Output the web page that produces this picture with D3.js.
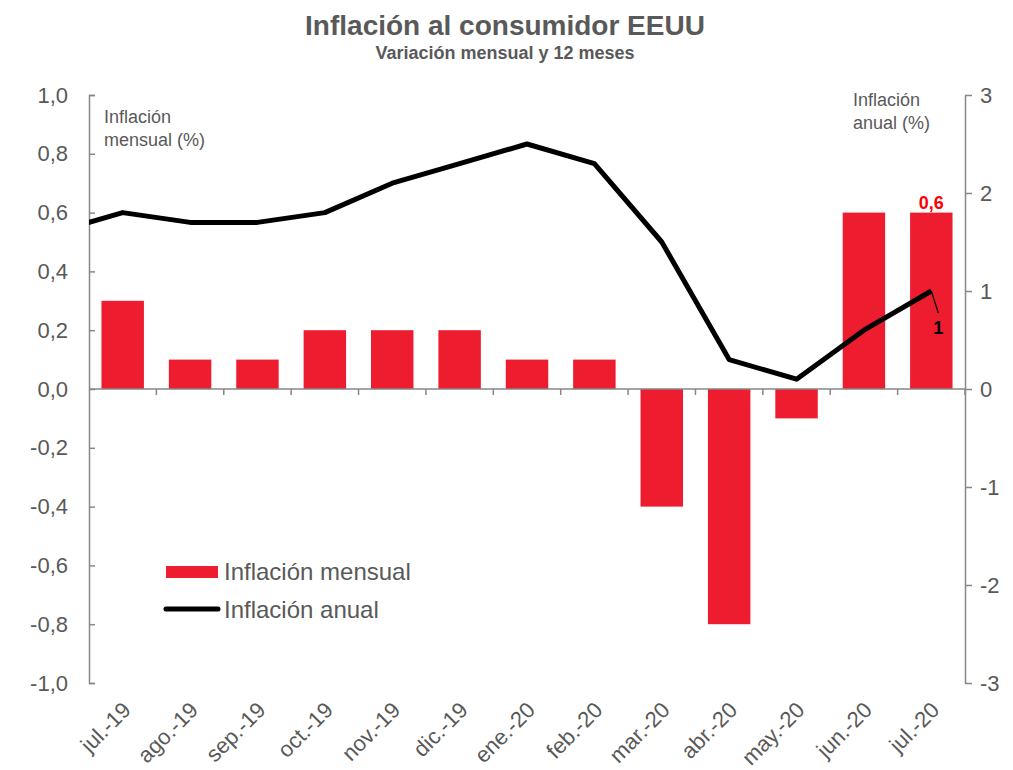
<!DOCTYPE html>
<html>
<head>
<meta charset="utf-8">
<script src="https://cdn.jsdelivr.net/npm/d3@7"></script>
<style>
  body { margin: 0; background: #fff; }
  svg { font-family: "Liberation Sans", Arial, sans-serif; }
  .axis path, .axis line { stroke: #878787; stroke-width: 1.5px; fill: none; }
  .axis text { fill: #595959; font-size: 22px; }
</style>
</head>
<body>
<svg id="chart" width="1013" height="770"></svg>
<script>
var months = ["jul.-19", "ago.-19", "sep.-19", "oct.-19", "nov.-19", "dic.-19", "ene.-20",
  "feb.-20", "mar.-20", "abr.-20", "may.-20", "jun.-20", "jul.-20"];
var monthly = [0.3, 0.1, 0.1, 0.2, 0.2, 0.2, 0.1, 0.1, -0.4, -0.8, -0.1, 0.6, 0.6];
// the annual line begins one month earlier (jun.-19), clipped at the left axis
var annualPrev = 1.6;
var annual = [1.8, 1.7, 1.7, 1.8, 2.1, 2.3, 2.5, 2.3, 1.5, 0.3, 0.1, 0.6, 1.0];
var leftTicks = [-1, -0.8, -0.6, -0.4, -0.2, 0, 0.2, 0.4, 0.6, 0.8, 1];
var rightTicks = [-3, -2, -1, 0, 1, 2, 3];

var svg = d3.select("#chart");
var plotL = 89, plotR = 965, plotT = 95, plotB = 683;
var red = "#ed1c2e", grey = "#595959";

var x = d3.scaleBand().domain(months).range([plotL, plotR]).paddingInner(0.37).paddingOuter(0.185);
var step = x.step();
var cx = function(i) { return x(months[0]) + x.bandwidth() / 2 + i * step; };
var yL = d3.scaleLinear().domain([-1, 1]).range([plotB, plotT]);
var yR = d3.scaleLinear().domain([-3, 3]).range([plotB, plotT]);

var fmt = function(d) { return d3.format(".1f")(d).replace(".", ",").replace("−", "-"); };

// title
svg.append("text").attr("x", 505).attr("y", 35).attr("text-anchor", "middle")
  .style("font-size", "28px").style("font-weight", "bold").attr("fill", grey)
  .text("Inflación al consumidor EEUU");
svg.append("text").attr("x", 505).attr("y", 59).attr("text-anchor", "middle")
  .style("font-size", "18px").style("font-weight", "bold").attr("fill", grey)
  .text("Variación mensual y 12 meses");

// bars
svg.append("g").selectAll("rect").data(monthly).join("rect")
  .attr("x", function(d, i) { return x(months[i]); })
  .attr("width", x.bandwidth())
  .attr("y", function(d) { return yL(Math.max(0, d)); })
  .attr("height", function(d) { return Math.abs(yL(d) - yL(0)); })
  .attr("fill", red);

// left axis
var gl = svg.append("g").attr("class", "axis").attr("transform", "translate(" + plotL + ",0)")
  .call(d3.axisRight(yL).tickValues(leftTicks).tickFormat(fmt).tickSize(6).tickSizeOuter(6));
gl.selectAll("text").attr("x", -21).attr("text-anchor", "end");

// right axis
svg.append("g").attr("class", "axis").attr("transform", "translate(" + plotR + ",0)")
  .call(d3.axisRight(yR).tickValues(rightTicks).tickFormat(function(d) { return String(d); }).tickSize(7).tickSizeOuter(0))
  .selectAll("text").attr("x", 15);

// category axis at zero
var xa = svg.append("g").attr("class", "axis").attr("transform", "translate(0," + yL(0) + ")");
xa.append("line").attr("x1", plotL).attr("x2", plotR);
xa.selectAll("line.tk").data(d3.range(months.length)).join("line").attr("class", "tk")
  .attr("x1", function(i) { return plotL + (i + 1) * step; })
  .attr("x2", function(i) { return plotL + (i + 1) * step; })
  .attr("y1", 0).attr("y2", 6);

// category labels
svg.append("g").selectAll("text").data(months).join("text")
  .attr("transform", function(d, i) { return "translate(" + (cx(i) + 4) + ",706) rotate(-45)"; })
  .attr("text-anchor", "end").attr("dy", "0.35em")
  .style("font-size", "22px").attr("fill", grey)
  .text(function(d) { return d; });

// annual line
svg.append("clipPath").attr("id", "clip").append("rect")
  .attr("x", plotL).attr("y", plotT - 10).attr("width", plotR - plotL).attr("height", plotB - plotT + 20);
var pts = [[cx(-1), annualPrev]].concat(annual.map(function(d, i) { return [cx(i), d]; }));
svg.append("path").datum(pts)
  .attr("clip-path", "url(#clip)")
  .attr("fill", "none").attr("stroke", "#000").attr("stroke-width", 5)
  .attr("stroke-linejoin", "round")
  .attr("d", d3.line().x(function(d) { return d[0]; }).y(function(d) { return yR(d[1]); }));

// axis notes
var note = function(tx, ty, lines) {
  var t = svg.append("text").attr("x", tx).attr("y", ty).style("font-size", "18px").attr("fill", grey);
  lines.forEach(function(s, k) { t.append("tspan").attr("x", tx).attr("dy", k ? 23 : 0).text(s); });
};
note(104, 123, ["Inflación", "mensual (%)"]);
note(853, 106, ["Inflación", "anual (%)"]);

// data labels
var last = months.length - 1;
svg.append("text").attr("x", cx(last)).attr("y", yL(monthly[last]) - 4).attr("text-anchor", "middle")
  .style("font-size", "18px").style("font-weight", "bold").attr("fill", "#ff0000")
  .text(fmt(monthly[last]));
svg.append("line").attr("x1", cx(last)).attr("y1", yR(annual[last]))
  .attr("x2", cx(last) + 7).attr("y2", yR(annual[last]) + 22)
  .attr("stroke", "#000").attr("stroke-width", 1.2);
svg.append("text").attr("x", cx(last) + 7).attr("y", yR(annual[last]) + 43).attr("text-anchor", "middle")
  .style("font-size", "18px").style("font-weight", "bold").attr("fill", "#000")
  .text(String(annual[last]));

// legend
var lg = svg.append("g").attr("transform", "translate(166,0)");
lg.append("rect").attr("x", 0).attr("y", 566).attr("width", 52).attr("height", 12).attr("fill", red);
lg.append("text").attr("x", 58).attr("y", 580).style("font-size", "24px").attr("fill", grey).text("Inflación mensual");
lg.append("line").attr("x1", 0).attr("x2", 52).attr("y1", 609).attr("y2", 609)
  .attr("stroke", "#000").attr("stroke-width", 5).attr("stroke-linecap", "round");
lg.append("text").attr("x", 58).attr("y", 618).style("font-size", "24px").attr("fill", grey).text("Inflación anual");
</script>
</body>
</html>
